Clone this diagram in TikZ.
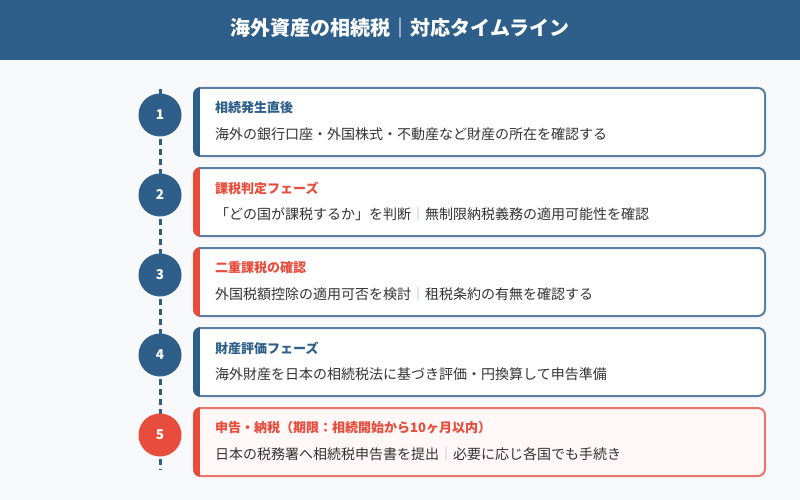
\documentclass[tikz,border=0pt]{standalone}
\usepackage{fontspec}
\setmainfont{Noto Sans CJK JP}
\definecolor{bg}{HTML}{F7F9FB}
\definecolor{navy}{HTML}{2D5F8A}
\definecolor{redc}{HTML}{E74C3C}
\definecolor{steel}{HTML}{5B7FA0}
\definecolor{rborder}{HTML}{E8766B}
\definecolor{rfill}{HTML}{FFF8F7}
\definecolor{bodytxt}{HTML}{333333}
\definecolor{sep}{HTML}{8FB0CE}
\tikzset{
  circ/.style={circle, minimum size=43pt, inner sep=0pt, text=white, font=\fontsize{13.5}{14}\selectfont\bfseries},
  cardtitle/.style={anchor=west, inner sep=0pt, font=\fontsize{13}{13}\selectfont\bfseries},
  cardbody/.style={anchor=west, inner sep=0pt, text=bodytxt, font=\fontsize{14}{14}\selectfont},
  timeline/.style={navy, line width=3pt, dash pattern=on 6pt off 4pt},
}
\newcommand\sepbar{{\color{sep}｜}}
% #1 idx, #2 top, #3 circle colour, #4 accent/title colour, #5 border, #6 fill, #7 title, #8 body
\newcommand\tlcard[8]{%
  \fill[#6, rounded corners=7pt] (194,#2) rectangle (765,#2+68);
  \draw[#5, line width=2pt, rounded corners=7pt] (194,#2) rectangle (765,#2+68);
  \begin{scope}
    \clip[rounded corners=8pt] (193,#2-1) rectangle (766,#2+69);
    \fill[#4] (193,#2-1) rectangle (200,#2+69);
  \end{scope}
  \node[circ, fill=#3] (c#1) at (160,#2+27) {#1};
  \node[cardtitle, text=#4] (t#1) at (215,#2+20) {#7};
  \node[cardbody] (b#1) at (215,#2+46) {#8};
}
\begin{document}
\begin{tikzpicture}[x=1pt,y=-1pt]
\fill[bg] (0,0) rectangle (800,500);
\useasboundingbox (0,0) rectangle (800,500);
\fill[navy] (0,0) rectangle (800,60);
\node[text=white, font=\fontsize{20}{20}\selectfont\bfseries] (title) at (400,28) {海外資産の相続税｜対応タイムライン};
\coordinate (ltop) at (160,89);
\coordinate (lbot) at (160,470);
\draw[timeline] (ltop) -- (lbot);
\tlcard{1}{88}{navy}{navy}{steel}{white}{相続発生直後}{海外の銀行口座・外国株式・不動産など財産の所在を確認する}
\tlcard{2}{168}{navy}{redc}{steel}{white}{課税判定フェーズ}{「どの国が課税するか」を判断\sepbar 無制限納税義務の適用可能性を確認}
\tlcard{3}{248}{navy}{redc}{steel}{white}{二重課税の確認}{外国税額控除の適用可否を検討\sepbar 租税条約の有無を確認する}
\tlcard{4}{328}{navy}{navy}{steel}{white}{財産評価フェーズ}{海外財産を日本の相続税法に基づき評価・円換算して申告準備}
\tlcard{5}{408}{redc}{redc}{rborder}{rfill}{申告・納税（期限：相続開始から10ヶ月以内）}{日本の税務署へ相続税申告書を提出\sepbar 必要に応じ各国でも手続き}
\end{tikzpicture}
\end{document}
